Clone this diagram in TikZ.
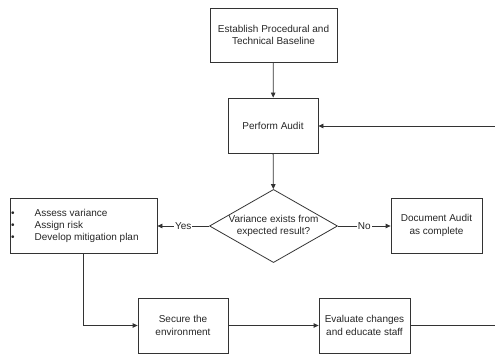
\documentclass[tikz,border=0pt]{standalone}
\usepackage{fontspec}
\setmainfont{Liberation Sans}
\usetikzlibrary{shapes.geometric,arrows.meta}
\begin{document}
\begin{tikzpicture}[x=1pt,y=1pt,
  every node/.style={font=\fontsize{10}{12.5}\selectfont, text=black!85},
  box/.style={draw=black!80, line width=0.8pt, align=center, inner sep=0pt},
  conn/.style={draw=black!80, line width=0.8pt, -{Triangle[length=5pt,width=4.5pt]}},
  plain/.style={draw=black!80, line width=0.8pt},
  lbl/.style={fill=white, inner sep=1pt}]
\useasboundingbox (0,0) rectangle (495,354);
\node[box, minimum width=127, minimum height=54] (base) at (273.5,319) {Establish Procedural and\\Technical Baseline};
\node[box, minimum width=90, minimum height=55] (audit) at (273,228.5) {Perform Audit};
\node[box, shape=diamond, minimum width=126, minimum height=72, aspect=1.75] (dec) at (273.5,128) {Variance exists from\\expected result?};
\node[box, minimum width=147, minimum height=55] (assess) at (83.5,128.5) {};
\node[anchor=west, align=left, inner sep=0pt] (list) at (11,128.5) {%
  \begin{tabular}{@{}l@{\hspace{20pt}}l@{}}
  • & Assess variance\\[-0.5pt]
  • & Assign risk\\[-0.5pt]
  • & Develop mitigation plan
  \end{tabular}};
\node[box, minimum width=91, minimum height=55] (doc) at (436.5,128.5) {Document Audit\\as complete};
\node[box, minimum width=90, minimum height=55] (secure) at (183,28.5) {Secure the\\environment};
\node[box, minimum width=91, minimum height=55] (eval) at (364.5,28.5) {Evaluate changes\\and educate staff};
\coordinate (r1) at (495,228);
\coordinate (r2) at (495,28.5);
\draw[conn] (r1) -- (audit.east |- r1);
\draw[conn] (base) -- (audit);
\draw[conn] (audit) -- (dec);
\draw[conn] (dec.west) -- node[lbl] {Yes} (assess.east |- dec.west);
\draw[conn] (dec.east) -- node[lbl] {No} (doc.west |- dec.east);
\draw[conn] (assess.south) |- (secure.west);
\draw[conn] (secure) -- (eval);
\draw[plain] (eval.east) -- (r2);
\end{tikzpicture}
\end{document}
